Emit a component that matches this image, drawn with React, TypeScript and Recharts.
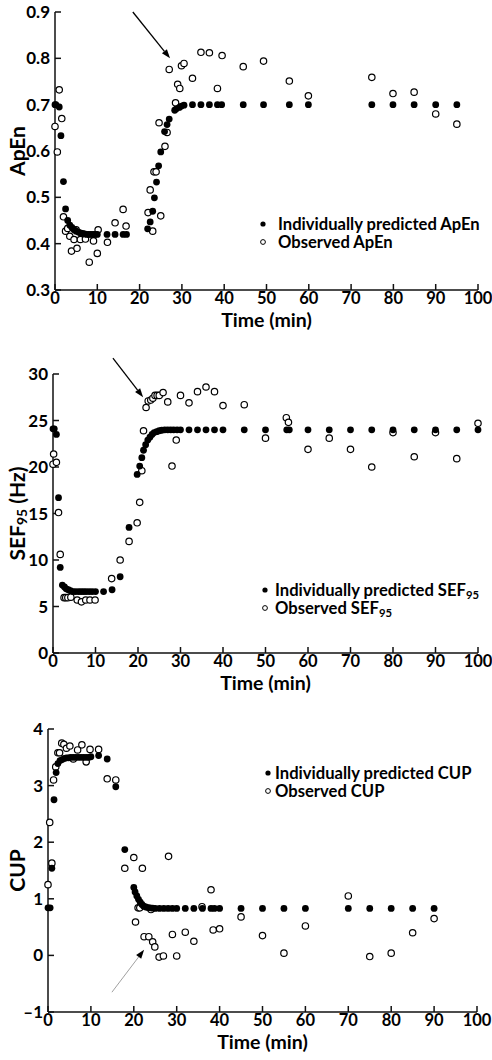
import React from 'react'
import {
  ScatterChart,
  Scatter,
  XAxis,
  YAxis,
  ReferenceLine,
} from 'recharts'

// ApEn panel
const apenPredT = [0, 0.2, 1, 1.4, 2, 2.5, 3, 3.5, 4, 4.5, 5, 5.5, 6, 6.5, 7, 7.5, 8, 8.5, 9, 9.5, 10, 12.3, 14.2, 16.1, 16.9, 21.9, 22.5, 23.1, 23.5, 24, 24.5, 25, 25.9, 26.5, 27, 28.3, 28.7, 29.4, 29.9, 30.5, 32.5, 34.5, 36.5, 38.4, 39.4, 44.5, 49.3, 55.4, 59.9, 74.9, 79.9, 84.9, 90, 95]
const apenPredV = [0.7, 0.7, 0.695, 0.633, 0.534, 0.475, 0.45, 0.44, 0.435, 0.43, 0.427, 0.425, 0.423, 0.422, 0.421, 0.42, 0.42, 0.42, 0.42, 0.42, 0.42, 0.42, 0.42, 0.42, 0.42, 0.432, 0.447, 0.47, 0.499, 0.533, 0.568, 0.598, 0.642, 0.657, 0.669, 0.688, 0.691, 0.694, 0.697, 0.699, 0.7, 0.7, 0.7, 0.7, 0.7, 0.7, 0.7, 0.7, 0.7, 0.7, 0.7, 0.7, 0.7, 0.7]
const apenObsT = [0, 0.55, 1, 1.6, 2, 2.5, 3, 3.5, 3.9, 4.5, 5, 5.2, 6, 7.2, 8.1, 9.1, 10, 10.2, 12.4, 14.2, 16.1, 16.8, 22, 22.5, 23.1, 23.4, 23.9, 24.6, 25, 26, 26.5, 27, 28.5, 29, 29.5, 29.9, 30.5, 32.5, 34.5, 36.5, 38.4, 39.5, 44.5, 49.3, 55.4, 59.9, 74.9, 79.9, 84.9, 90, 95]
const apenObsV = [0.653, 0.598, 0.732, 0.67, 0.458, 0.427, 0.433, 0.416, 0.384, 0.409, 0.43, 0.39, 0.409, 0.41, 0.36, 0.406, 0.379, 0.43, 0.403, 0.445, 0.474, 0.438, 0.467, 0.516, 0.427, 0.555, 0.555, 0.661, 0.46, 0.61, 0.64, 0.776, 0.704, 0.744, 0.735, 0.784, 0.789, 0.757, 0.813, 0.812, 0.735, 0.806, 0.782, 0.794, 0.751, 0.719, 0.759, 0.724, 0.727, 0.68, 0.658]
const apenTicks = [0.3, 0.4, 0.5, 0.6, 0.7, 0.8, 0.9]

// SEF95 panel
const sefPredT = [0, 0.3, 0.8, 1.3, 1.7, 2.2, 2.7, 3.1, 3.6, 4.1, 4.7, 5.3, 6, 6.6, 7.2, 7.8, 8.5, 9.2, 10, 11.9, 13.9, 15.8, 17.9, 19.8, 20.4, 20.9, 21.3, 21.8, 22.3, 22.8, 23.3, 23.8, 24.4, 25, 25.6, 26.3, 27, 27.7, 28.4, 29.2, 30, 32, 34, 36, 38, 40, 45, 50, 55, 55.6, 60, 65, 70, 75, 80, 85, 90, 95, 100]
const sefPredV = [24.1, 24.1, 23.5, 16.7, 9.2, 7.3, 7.1, 6.9, 6.8, 6.7, 6.6, 6.6, 6.6, 6.6, 6.6, 6.6, 6.6, 6.6, 6.6, 6.6, 6.8, 8.2, 13.5, 19.2, 20.1, 21.0, 21.8, 22.4, 22.9, 23.2, 23.5, 23.7, 23.8, 23.9, 23.95, 24, 24, 24, 24, 24, 24, 24, 24, 24, 24, 24, 24, 24, 24, 24, 24, 24, 24, 24, 24, 24, 24, 24, 24]
const sefObsT = [0, 0.15, 0.8, 1.3, 1.7, 2.6, 3, 3.5, 4.2, 5.7, 6.7, 7.7, 8.7, 9.9, 13.8, 15.8, 17.9, 19.8, 20.4, 20.9, 21.3, 21.9, 22.4, 23, 23.5, 24, 24.5, 25, 25.9, 27, 28, 29, 30, 32, 34, 36, 38, 40, 45, 50, 54.9, 55.4, 60, 65, 70, 75, 80, 85, 90, 95, 100]
const sefObsV = [20.3, 21.4, 20.5, 15.1, 10.6, 5.95, 5.95, 5.95, 6.0, 5.7, 5.5, 5.7, 5.7, 5.7, 8.0, 10.0, 12.0, 14.0, 16.2, 19.6, 23.9, 26.4, 27.1, 27.2, 27.4, 27.7, 27.7, 27.7, 28.0, 27.0, 20.1, 22.9, 27.7, 26.9, 28.1, 28.6, 28.1, 26.6, 26.7, 23.1, 25.3, 24.8, 21.9, 23.1, 21.9, 20.0, 23.7, 21.1, 23.7, 20.9, 24.7]
const sefTicks = [0, 5, 10, 15, 20, 25, 30]

// CUP panel
const cupPredT = [0, 0.5, 0.9, 1.4, 1.9, 2.3, 2.8, 3.3, 3.8, 4.3, 4.8, 5.3, 5.9, 6.5, 7.1, 7.7, 8.3, 8.9, 9.5, 10, 11.8, 13.8, 15.8, 17.9, 20, 20.3, 20.7, 21.1, 21.5, 21.9, 22.3, 22.8, 23.3, 23.8, 24.4, 25, 26, 27, 28, 29, 30, 32, 34, 36, 38, 38.8, 40, 45, 50, 55, 60, 70, 75, 80, 85, 90]
const cupPredV = [0.84, 0.84, 1.54, 2.75, 3.23, 3.39, 3.44, 3.46, 3.48, 3.49, 3.49, 3.5, 3.5, 3.5, 3.5, 3.5, 3.5, 3.5, 3.5, 3.51, 3.53, 3.47, 2.98, 1.87, 1.2, 1.12, 1.05, 0.99, 0.94, 0.9, 0.87, 0.855, 0.845, 0.84, 0.835, 0.83, 0.83, 0.83, 0.83, 0.83, 0.83, 0.83, 0.83, 0.83, 0.83, 0.83, 0.83, 0.83, 0.83, 0.83, 0.83, 0.83, 0.83, 0.83, 0.83, 0.83]
const cupObsT = [0, 0.4, 0.9, 1.3, 1.8, 2.3, 2.7, 3.2, 3.7, 4.3, 5.1, 5.9, 6.9, 7.9, 8.9, 9.8, 11.8, 13.8, 15.8, 17.9, 20, 20.4, 21, 21.4, 22, 22.4, 23.5, 24, 24.4, 24.9, 25.9, 26.9, 28.1, 29, 30, 32, 34, 35.9, 38, 38.5, 40, 45, 50, 55, 60, 70, 75, 80, 85, 90]
const cupObsV = [1.25, 2.35, 1.63, 3.1, 3.33, 3.58, 3.58, 3.75, 3.73, 3.66, 3.7, 3.47, 3.63, 3.72, 3.42, 3.64, 3.64, 3.12, 3.1, 1.54, 1.73, 0.59, 0.84, 0.84, 1.54, 0.33, 0.33, 0.81, 0.24, 0.15, -0.03, -0.01, 1.75, 0.37, -0.01, 0.41, 0.25, 0.86, 1.16, 0.45, 0.47, 0.68, 0.35, 0.04, 0.52, 1.05, -0.02, 0.04, 0.4, 0.65]
const cupTicks = [-1, 0, 1, 2, 3, 4]

const timeTicks = [0, 10, 20, 30, 40, 50, 60, 70, 80, 90, 100]

const zip = (t: number[], v: number[]) => t.map((x, i) => ({ t: x, v: v[i] }))

const FONT = 'Lato, "DejaVu Sans", sans-serif'

const FilledDot = (p: any) => <circle cx={p.cx} cy={p.cy} r={3.4} fill="#000" />
const OpenDot = (p: any) => (
  <circle cx={p.cx} cy={p.cy} r={3.2} fill="#fff" stroke="#000" strokeWidth={1.2} />
)

const arrowShape = (color: string, width: number) => (p: any) => {
  const { x1, y1, x2, y2 } = p
  const a = Math.atan2(y2 - y1, x2 - x1)
  const L = 9
  const W = 3.2
  const bx = x2 - L * Math.cos(a)
  const by = y2 - L * Math.sin(a)
  const pts = `${x2},${y2} ${bx - W * Math.sin(a)},${by + W * Math.cos(a)} ${bx + W * Math.sin(a)},${by - W * Math.cos(a)}`
  return (
    <g>
      <line x1={x1} y1={y1} x2={bx} y2={by} stroke={color} strokeWidth={width} />
      <polygon points={pts} fill="#000" />
    </g>
  )
}

interface PanelProps {
  top: number
  height: number
  margin: { top: number; right: number; left: number; bottom: number }
  domain: [number, number]
  yTicks: number[]
  pred: { t: number; v: number }[]
  obs: { t: number; v: number }[]
  yTitle: React.ReactNode
  predLabel: React.ReactNode
  obsLabel: React.ReactNode
  legend: { left: number; top: number; gap: number }
  arrow: { x1: number; y1: number; x2: number; y2: number; color: string; width: number }
}

const Panel = ({ top, height, margin, domain, yTicks, pred, obs, yTitle, predLabel, obsLabel, legend, arrow }: PanelProps) => {
  const row = { display: 'flex', alignItems: 'center', whiteSpace: 'nowrap' as const, height: 18 }
  return (
    <div style={{ position: 'absolute', left: 0, top, width: 492, height }}>
      <ScatterChart width={492} height={height} margin={margin}>
        <XAxis
          type="number"
          dataKey="t"
          domain={[0, 100]}
          ticks={timeTicks}
          interval={0}
          height={40}
          tickSize={-6}
          tickMargin={8}
          stroke="#111"
          strokeWidth={1.5}
          tick={{ fill: '#000', fontSize: 16.5, fontWeight: 700 }}
          label={{
            content: (lp: any) => {
              const vb = lp.viewBox
              return (
                <text x={vb.x + vb.width / 2} y={vb.y + 37} textAnchor="middle" fontSize={19.5} fontWeight={700} fill="#000">
                  Time (min)
                </text>
              )
            },
          }}
        />
        <YAxis
          type="number"
          dataKey="v"
          domain={domain}
          ticks={yTicks}
          interval={0}
          width={40}
          tickSize={-6}
          tickMargin={11}
          stroke="#111"
          strokeWidth={1.5}
          tickFormatter={(v: number) => (v < 0 ? '\u2013' + Math.abs(v) : String(v))}
          tick={{ fill: '#000', fontSize: 17, fontWeight: 700 }}
          label={{
            content: (lp: any) => {
              const vb = lp.viewBox
              const cy = vb.y + vb.height / 2
              return (
                <text x={16} y={cy} transform={`rotate(-90 16 ${cy})`} textAnchor="middle" dominantBaseline="central" fontSize={21} fontWeight={700} fill="#000">
                  {yTitle}
                </text>
              )
            },
          }}
        />
        <Scatter data={obs} shape={OpenDot} isAnimationActive={false} />
        <Scatter data={pred} shape={FilledDot} isAnimationActive={false} />
        <ReferenceLine
          segment={[{ x: arrow.x1, y: arrow.y1 }, { x: arrow.x2, y: arrow.y2 }]}
          ifOverflow="visible"
          shape={arrowShape(arrow.color, arrow.width)}
        />
      </ScatterChart>
      <div
        style={{
          position: 'absolute',
          left: legend.left,
          top: legend.top,
          fontFamily: FONT,
          fontWeight: 700,
          fontSize: 16.6,
          lineHeight: '18px',
          color: '#000',
        }}
      >
        <div style={row}>
          <svg width={legend.gap} height={10}><circle cx={3} cy={5} r={2.6} fill="#000" /></svg>
          <span>{predLabel}</span>
        </div>
        <div style={row}>
          <svg width={legend.gap} height={10}><circle cx={3} cy={5} r={2.4} fill="#fff" stroke="#000" strokeWidth={1} /></svg>
          <span>{obsLabel}</span>
        </div>
      </div>
    </div>
  )
}

const Sub = ({ children }: { children: React.ReactNode }) => (
  <sub style={{ fontSize: '0.68em', verticalAlign: '-0.25em', lineHeight: 0 }}>{children}</sub>
)

export default function App() {
  return (
    <div style={{ position: 'absolute', left: 0, top: 0, width: 492, height: 1060, background: '#fff', fontFamily: FONT }}>
      <Panel
        top={0}
        height={335}
        margin={{ top: 12, right: 14, left: 15, bottom: 5 }}
        domain={[0.3, 0.9]}
        yTicks={apenTicks}
        pred={zip(apenPredT, apenPredV)}
        obs={zip(apenObsT, apenObsV)}
        yTitle="ApEn"
        predLabel="Individually predicted ApEn"
        obsLabel="Observed ApEn"
        legend={{ left: 260, top: 215, gap: 18 }}
        arrow={{ x1: 18.4, y1: 0.9, x2: 27.2, y2: 0.8, color: '#000', width: 1.3 }}
      />
      <Panel
        top={335}
        height={363}
        margin={{ top: 39, right: 14, left: 13, bottom: 5 }}
        domain={[0, 30]}
        yTicks={sefTicks}
        pred={zip(sefPredT, sefPredV)}
        obs={zip(sefObsT, sefObsV)}
        yTitle={
          <>
            SEF<tspan fontSize={14} dy={5}>95</tspan>
            <tspan dy={-5}> (Hz)</tspan>
          </>
        }
        predLabel={<>Individually predicted SEF<Sub>95</Sub></>}
        obsLabel={<>Observed SEF<Sub>95</Sub></>}
        legend={{ left: 262, top: 246, gap: 13 }}
        arrow={{ x1: 14.1, y1: 31.7, x2: 21.2, y2: 27.5, color: '#000', width: 1.3 }}
      />
      <Panel
        top={698}
        height={362}
        margin={{ top: 31, right: 15, left: 8, bottom: 8 }}
        domain={[-1, 4]}
        yTicks={cupTicks}
        pred={zip(cupPredT, cupPredV)}
        obs={zip(cupObsT, cupObsV)}
        yTitle="CUP"
        predLabel="Individually predicted CUP"
        obsLabel="Observed CUP"
        legend={{ left: 265, top: 66, gap: 10 }}
        arrow={{ x1: 14.9, y1: -0.65, x2: 22.4, y2: 0.1, color: '#888', width: 0.8 }}
      />
    </div>
  )
}
